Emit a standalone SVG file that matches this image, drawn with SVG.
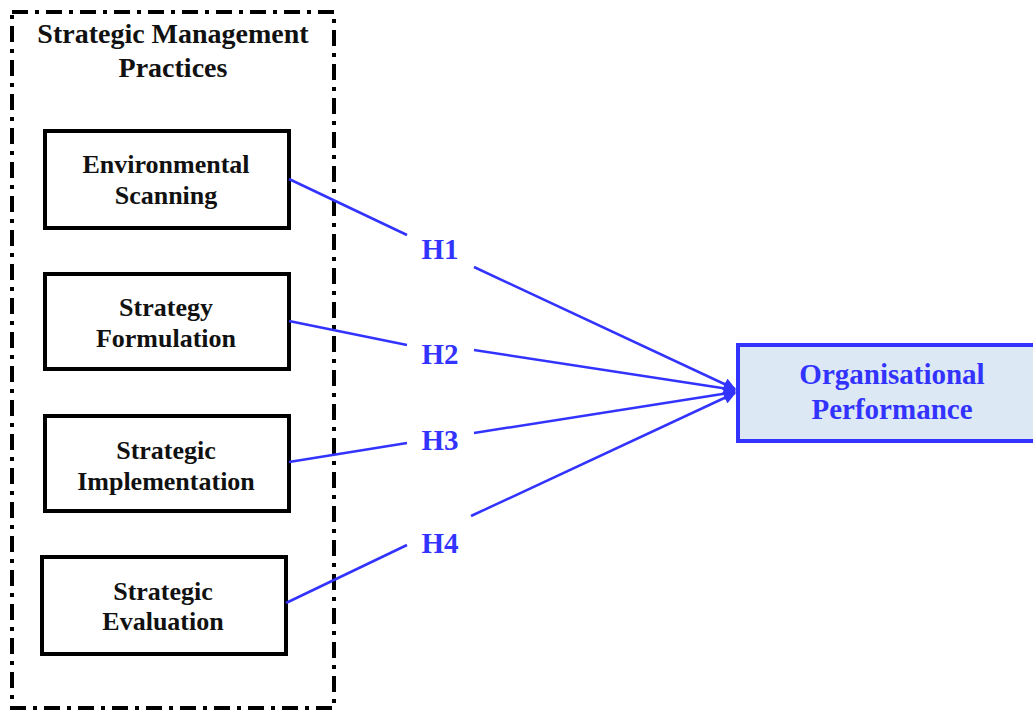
<svg xmlns="http://www.w3.org/2000/svg" width="1033" height="711" viewBox="0 0 1033 711">
<style>
.box{fill:#fff;stroke:#000;stroke-width:4}
.t{font-family:"Liberation Serif",serif;font-weight:bold;font-size:26px;fill:#111;text-anchor:middle}
.h{font-size:28px}
.b{font-family:"Liberation Serif",serif;font-weight:bold;font-size:29px;fill:#3333ff;text-anchor:middle}
.ln{stroke:#3333ff;stroke-width:2.5;fill:none}
</style>
<defs>
<marker id="ah" viewBox="0 0 10 10" refX="9" refY="5" markerWidth="5.5" markerHeight="5" orient="auto" markerUnits="strokeWidth">
<path d="M0,0 L10,5 L0,10 z" fill="#3333ff"/>
</marker>
</defs>
<rect width="1033" height="711" fill="#fff"/>
<g id="group">
<rect x="12" y="12" width="322" height="696" fill="none" stroke="#000" stroke-width="4" stroke-dasharray="16 7 4 7"/>
<text class="t h" x="173" y="43">Strategic Management</text>
<text class="t h" x="173" y="77">Practices</text>
</g>
<g id="n1"><rect class="box" x="45" y="131" width="244" height="97"/>
<text class="t" x="166" y="173">Environmental</text><text class="t" x="166" y="204">Scanning</text></g>
<g id="n2"><rect class="box" x="45" y="274" width="244" height="95"/>
<text class="t" x="166" y="316">Strategy</text><text class="t" x="166" y="347">Formulation</text></g>
<g id="n3"><rect class="box" x="45" y="416" width="244" height="95"/>
<text class="t" x="166" y="459">Strategic</text><text class="t" x="166" y="490">Implementation</text></g>
<g id="n4"><rect class="box" x="42" y="557" width="244" height="97"/>
<text class="t" x="163" y="600">Strategic</text><text class="t" x="163" y="630">Evaluation</text></g>
<g id="target"><rect x="738" y="345" width="300" height="96" fill="#dde8f5" stroke="#3333ff" stroke-width="4"/>
<text class="b" x="892" y="384">Organisational</text><text class="b" x="892" y="419">Performance</text></g>
<g id="connectors">
<line class="ln" x1="289" y1="179" x2="407" y2="235"/>
<line class="ln" x1="474" y1="267" x2="735" y2="389" marker-end="url(#ah)"/>
<line class="ln" x1="289" y1="321" x2="407" y2="345"/>
<line class="ln" x1="474" y1="350" x2="735" y2="390" marker-end="url(#ah)"/>
<line class="ln" x1="289" y1="462" x2="407" y2="443"/>
<line class="ln" x1="474" y1="433" x2="735" y2="392" marker-end="url(#ah)"/>
<line class="ln" x1="286" y1="603" x2="407" y2="545"/>
<line class="ln" x1="471" y1="516" x2="735" y2="393" marker-end="url(#ah)"/>
<text class="b" x="440" y="259">H1</text>
<text class="b" x="440" y="364">H2</text>
<text class="b" x="440" y="450">H3</text>
<text class="b" x="440" y="553">H4</text>
</g>
</svg>
